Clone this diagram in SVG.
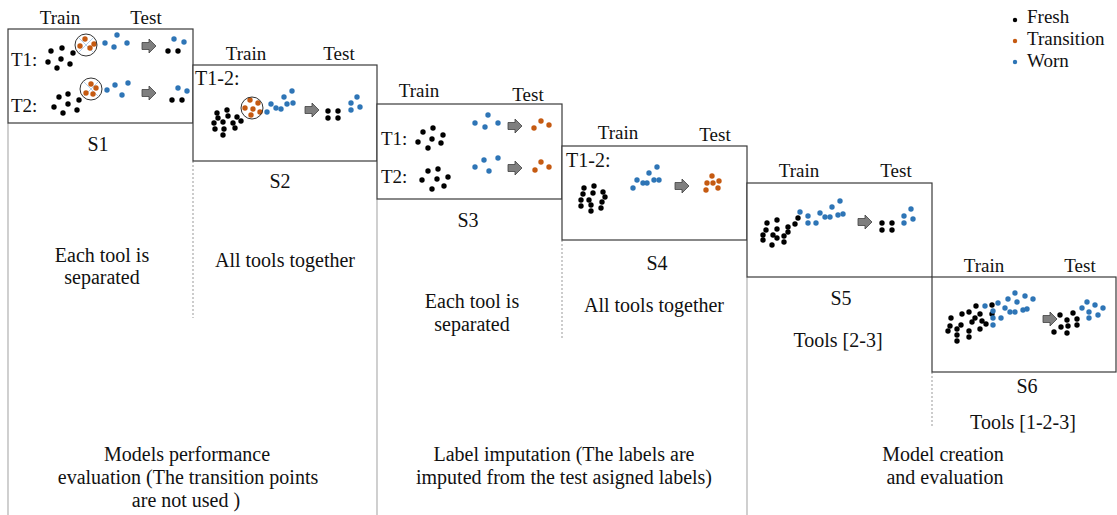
<svg xmlns="http://www.w3.org/2000/svg" width="1117" height="515" viewBox="0 0 1117 515">
<defs>
<style>
.t{font-family:'Liberation Serif',Tinos,'DejaVu Serif','Noto Serif','Times New Roman',serif;font-size:20px;fill:#111}
.s{font-size:19px}
.m{text-anchor:middle}
.box{fill:#fff;stroke:#3a3a3a;stroke-width:1.2}
.k{fill:#000}
.o{fill:#c55a11}
.b{fill:#2e75b6}
.ring{fill:none;stroke:#333;stroke-width:1}
.x{stroke:#9dc3e6;stroke-width:0.8}
.v{stroke:#b0b0b0;stroke-width:1.2;fill:none}
.d{stroke:#999;stroke-width:1;stroke-dasharray:2,2;fill:none}
</style>
<path id="arr" d="M0,-3.5H7V-7L14,0L7,7V3.5H0Z" fill="#7f7f7f" stroke="#404040" stroke-width="0.8"/>
</defs>
<rect width="1117" height="515" fill="#fff"/>

<g id="connectors">
<line class="v" x1="8" y1="123" x2="8" y2="515"/>
<line class="v" x1="377" y1="199" x2="377" y2="515"/>
<line class="v" x1="747" y1="277" x2="747" y2="515"/>
<line class="d" x1="193" y1="161" x2="193" y2="318"/>
<line class="d" x1="562" y1="240" x2="562" y2="340"/>
<line class="d" x1="932" y1="372" x2="932" y2="427"/>
</g>

<g id="legend" font-family="Liberation Serif, serif">
<circle class="k" cx="1015" cy="20" r="2.2"/>
<circle class="o" cx="1015" cy="41" r="2.2"/>
<circle class="b" cx="1015" cy="62" r="2.2"/>
<text class="t s" x="1027" y="23">Fresh</text>
<text class="t s" x="1027" y="45">Transition</text>
<text class="t s" x="1027" y="67">Worn</text>
</g>

<g id="S1">
<rect class="box" x="8" y="29" width="185" height="94"/>
<text class="t s m" x="60" y="24">Train</text>
<text class="t s m" x="146" y="24">Test</text>
<text class="t s" x="11" y="66">T1:</text>
<text class="t s" x="11" y="112">T2:</text>
<g>
<circle class="k" cx="51" cy="51" r="2.7"/><circle class="k" cx="62" cy="48" r="2.7"/><circle class="k" cx="73" cy="53" r="2.7"/><circle class="k" cx="48" cy="62" r="2.7"/><circle class="k" cx="61" cy="59" r="2.7"/><circle class="k" cx="70" cy="64" r="2.7"/><circle class="k" cx="57" cy="68" r="2.7"/>
<line class="x" x1="79" y1="38" x2="93" y2="52"/><line class="x" x1="93" y1="38" x2="79" y2="52"/>
<circle class="o" cx="85" cy="39" r="2.7"/><circle class="o" cx="94" cy="44" r="2.7"/><circle class="o" cx="80" cy="46" r="2.7"/><circle class="o" cx="90" cy="48" r="2.7"/>
<circle class="ring" cx="86" cy="45" r="11"/>
<circle class="b" cx="105" cy="43" r="2.7"/><circle class="b" cx="117" cy="35" r="2.7"/><circle class="b" cx="114" cy="47" r="2.7"/><circle class="b" cx="127" cy="43" r="2.7"/>
<use href="#arr" x="142" y="46"/>
<circle class="b" cx="174" cy="39" r="2.7"/><circle class="b" cx="184" cy="42" r="2.7"/><circle class="k" cx="168" cy="51" r="2.7"/><circle class="k" cx="178" cy="51" r="2.7"/>
</g>
<g>
<circle class="k" cx="59" cy="97" r="2.7"/><circle class="k" cx="68" cy="94" r="2.7"/><circle class="k" cx="79" cy="100" r="2.7"/><circle class="k" cx="54" cy="107" r="2.7"/><circle class="k" cx="68" cy="104" r="2.7"/><circle class="k" cx="77" cy="110" r="2.7"/><circle class="k" cx="63" cy="113" r="2.7"/>
<line class="x" x1="84" y1="82" x2="98" y2="96"/><line class="x" x1="98" y1="82" x2="84" y2="96"/>
<circle class="o" cx="91" cy="84" r="2.7"/><circle class="o" cx="96" cy="88" r="2.7"/><circle class="o" cx="86" cy="93" r="2.7"/><circle class="o" cx="93" cy="94" r="2.7"/>
<circle class="ring" cx="91" cy="89" r="11"/>
<circle class="b" cx="107" cy="90" r="2.7"/><circle class="b" cx="115" cy="85" r="2.7"/><circle class="b" cx="128" cy="83" r="2.7"/><circle class="b" cx="122" cy="95" r="2.7"/>
<use href="#arr" x="142" y="93"/>
<circle class="b" cx="178" cy="88" r="2.7"/><circle class="b" cx="187" cy="91" r="2.7"/><circle class="k" cx="172" cy="100" r="2.7"/><circle class="k" cx="182" cy="100" r="2.7"/>
</g>
<text class="t m" x="98" y="151">S1</text>
<text class="t m" x="102" y="262">Each tool is</text>
<text class="t m" x="102" y="284">separated</text>
</g>

<g id="S2">
<rect class="box" x="193" y="65" width="184" height="96"/>
<text class="t s m" x="246" y="60">Train</text>
<text class="t s m" x="339" y="60">Test</text>
<text class="t" x="195" y="85">T1-2:</text>
<circle class="k" cx="217" cy="113" r="2.7"/><circle class="k" cx="227" cy="110" r="2.7"/><circle class="k" cx="218" cy="118" r="2.7"/><circle class="k" cx="228" cy="116" r="2.7"/><circle class="k" cx="237" cy="117" r="2.7"/><circle class="k" cx="214" cy="123" r="2.7"/><circle class="k" cx="223" cy="122" r="2.7"/><circle class="k" cx="233" cy="123" r="2.7"/><circle class="k" cx="215" cy="129" r="2.7"/><circle class="k" cx="224" cy="129" r="2.7"/><circle class="k" cx="235" cy="128" r="2.7"/><circle class="k" cx="241" cy="121" r="2.7"/><circle class="k" cx="223" cy="135" r="2.7"/>
<circle class="o" cx="250" cy="100" r="2.7"/><circle class="o" cx="258" cy="103" r="2.7"/><circle class="o" cx="245" cy="108" r="2.7"/><circle class="o" cx="253" cy="109" r="2.7"/><circle class="o" cx="260" cy="112" r="2.7"/><circle class="o" cx="251" cy="115" r="2.7"/>
<circle class="ring" cx="252" cy="108" r="11"/>
<circle class="b" cx="267" cy="112" r="2.7"/><circle class="b" cx="271" cy="104" r="2.7"/><circle class="b" cx="276" cy="108" r="2.7"/><circle class="b" cx="281" cy="109" r="2.7"/><circle class="b" cx="284" cy="97" r="2.7"/><circle class="b" cx="292" cy="91" r="2.7"/><circle class="b" cx="287" cy="104" r="2.7"/><circle class="b" cx="293" cy="103" r="2.7"/>
<use href="#arr" x="305" y="110"/>
<circle class="k" cx="328" cy="111" r="2.7"/><circle class="k" cx="338" cy="111" r="2.7"/><circle class="k" cx="328" cy="118" r="2.7"/><circle class="k" cx="338" cy="118" r="2.7"/>
<circle class="b" cx="357" cy="97" r="2.7"/><circle class="b" cx="351" cy="103" r="2.7"/><circle class="b" cx="360" cy="107" r="2.7"/><circle class="b" cx="351" cy="110" r="2.7"/>
<text class="t m" x="280" y="188">S2</text>
<text class="t m" x="285" y="267">All tools together</text>
</g>

<g id="S3">
<rect class="box" x="377" y="104" width="185" height="95"/>
<text class="t s m" x="419" y="97">Train</text>
<text class="t s m" x="528" y="101">Test</text>
<text class="t s" x="381" y="145">T1:</text>
<text class="t s" x="381" y="183">T2:</text>
<circle class="k" cx="423" cy="132" r="2.7"/><circle class="k" cx="433" cy="128" r="2.7"/><circle class="k" cx="443" cy="135" r="2.7"/><circle class="k" cx="418" cy="142" r="2.7"/><circle class="k" cx="432" cy="139" r="2.7"/><circle class="k" cx="441" cy="143" r="2.7"/><circle class="k" cx="428" cy="148" r="2.7"/>
<circle class="b" cx="475" cy="123" r="2.7"/><circle class="b" cx="488" cy="115" r="2.7"/><circle class="b" cx="485" cy="127" r="2.7"/><circle class="b" cx="498" cy="123" r="2.7"/>
<use href="#arr" x="508" y="126"/>
<circle class="o" cx="534" cy="128" r="2.7"/><circle class="o" cx="541" cy="121" r="2.7"/><circle class="o" cx="549" cy="125" r="2.7"/>
<circle class="k" cx="428" cy="171" r="2.7"/><circle class="k" cx="438" cy="169" r="2.7"/><circle class="k" cx="448" cy="177" r="2.7"/><circle class="k" cx="422" cy="180" r="2.7"/><circle class="k" cx="437" cy="179" r="2.7"/><circle class="k" cx="444" cy="186" r="2.7"/><circle class="k" cx="432" cy="189" r="2.7"/>
<circle class="b" cx="475" cy="167" r="2.7"/><circle class="b" cx="484" cy="160" r="2.7"/><circle class="b" cx="498" cy="158" r="2.7"/><circle class="b" cx="489" cy="171" r="2.7"/>
<use href="#arr" x="508" y="168"/>
<circle class="o" cx="535" cy="170" r="2.7"/><circle class="o" cx="541" cy="162" r="2.7"/><circle class="o" cx="549" cy="167" r="2.7"/>
<text class="t m" x="468" y="227">S3</text>
<text class="t m" x="472" y="308">Each tool is</text>
<text class="t m" x="472" y="331">separated</text>
</g>

<g id="S4">
<rect class="box" x="562" y="146" width="185" height="94"/>
<text class="t s m" x="618" y="139">Train</text>
<text class="t s m" x="715" y="141">Test</text>
<text class="t" x="566" y="167">T1-2:</text>
<circle class="k" cx="584" cy="188" r="2.7"/><circle class="k" cx="594" cy="186" r="2.7"/><circle class="k" cx="603" cy="192" r="2.7"/><circle class="k" cx="583" cy="194" r="2.7"/><circle class="k" cx="593" cy="193" r="2.7"/><circle class="k" cx="605" cy="197" r="2.7"/><circle class="k" cx="581" cy="200" r="2.7"/><circle class="k" cx="589" cy="200" r="2.7"/><circle class="k" cx="602" cy="202" r="2.7"/><circle class="k" cx="581" cy="206" r="2.7"/><circle class="k" cx="591" cy="205" r="2.7"/><circle class="k" cx="601" cy="208" r="2.7"/><circle class="k" cx="591" cy="211" r="2.7"/>
<circle class="b" cx="633" cy="188" r="2.7"/><circle class="b" cx="637" cy="180" r="2.7"/><circle class="b" cx="643" cy="183" r="2.7"/><circle class="b" cx="647" cy="183" r="2.7"/><circle class="b" cx="649" cy="173" r="2.7"/><circle class="b" cx="657" cy="167" r="2.7"/><circle class="b" cx="654" cy="180" r="2.7"/><circle class="b" cx="659" cy="180" r="2.7"/>
<use href="#arr" x="675" y="186"/>
<circle class="o" cx="712" cy="176" r="2.7"/><circle class="o" cx="707" cy="183" r="2.7"/><circle class="o" cx="713" cy="183" r="2.7"/><circle class="o" cx="719" cy="181" r="2.7"/><circle class="o" cx="706" cy="190" r="2.7"/><circle class="o" cx="718" cy="188" r="2.7"/>
<text class="t m" x="657" y="270">S4</text>
<text class="t m" x="654" y="312">All tools together</text>
</g>

<g id="S5">
<rect class="box" x="747" y="183" width="185" height="94"/>
<text class="t s m" x="799" y="177">Train</text>
<text class="t s m" x="896" y="177">Test</text>
<circle class="k" cx="767" cy="223" r="2.7"/><circle class="k" cx="777" cy="220" r="2.7"/><circle class="k" cx="766" cy="230" r="2.7"/><circle class="k" cx="777" cy="229" r="2.7"/><circle class="k" cx="788" cy="227" r="2.7"/><circle class="k" cx="795" cy="224" r="2.7"/><circle class="k" cx="798" cy="218" r="2.7"/><circle class="k" cx="763" cy="235" r="2.7"/><circle class="k" cx="773" cy="235" r="2.7"/><circle class="k" cx="788" cy="232" r="2.7"/><circle class="k" cx="763" cy="240" r="2.7"/><circle class="k" cx="777" cy="238" r="2.7"/><circle class="k" cx="784" cy="236" r="2.7"/><circle class="k" cx="772" cy="245" r="2.7"/><circle class="k" cx="784" cy="242" r="2.7"/>
<circle class="b" cx="800" cy="212" r="2.7"/><circle class="b" cx="808" cy="216" r="2.7"/><circle class="b" cx="808" cy="223" r="2.7"/><circle class="b" cx="816" cy="223" r="2.7"/><circle class="b" cx="820" cy="213" r="2.7"/><circle class="b" cx="825" cy="217" r="2.7"/><circle class="b" cx="830" cy="217" r="2.7"/><circle class="b" cx="832" cy="207" r="2.7"/><circle class="b" cx="840" cy="201" r="2.7"/><circle class="b" cx="838" cy="215" r="2.7"/><circle class="b" cx="843" cy="214" r="2.7"/>
<use href="#arr" x="858" y="222"/>
<circle class="k" cx="882" cy="223" r="2.7"/><circle class="k" cx="892" cy="223" r="2.7"/><circle class="k" cx="882" cy="230" r="2.7"/><circle class="k" cx="892" cy="230" r="2.7"/>
<circle class="b" cx="911" cy="209" r="2.7"/><circle class="b" cx="904" cy="216" r="2.7"/><circle class="b" cx="913" cy="219" r="2.7"/><circle class="b" cx="904" cy="223" r="2.7"/>
<text class="t m" x="841" y="305">S5</text>
<text class="t m" x="838" y="347">Tools [2-3]</text>
</g>

<g id="S6">
<rect class="box" x="932" y="277" width="184" height="95"/>
<text class="t s m" x="984" y="272">Train</text>
<text class="t s m" x="1080" y="272">Test</text>
<circle class="k" cx="951" cy="318" r="2.7"/><circle class="k" cx="962" cy="314" r="2.7"/><circle class="k" cx="969" cy="312" r="2.7"/><circle class="k" cx="976" cy="306" r="2.7"/><circle class="k" cx="980" cy="314" r="2.7"/><circle class="k" cx="950" cy="326" r="2.7"/><circle class="k" cx="961" cy="325" r="2.7"/><circle class="k" cx="972" cy="322" r="2.7"/><circle class="k" cx="982" cy="321" r="2.7"/><circle class="k" cx="992" cy="305" r="2.7"/><circle class="k" cx="992" cy="314" r="2.7"/><circle class="k" cx="948" cy="331" r="2.7"/><circle class="k" cx="957" cy="329" r="2.7"/><circle class="k" cx="969" cy="331" r="2.7"/><circle class="k" cx="980" cy="329" r="2.7"/><circle class="k" cx="957" cy="335" r="2.7"/><circle class="k" cx="969" cy="337" r="2.7"/><circle class="k" cx="957" cy="341" r="2.7"/><circle class="k" cx="986" cy="324" r="2.7"/><circle class="k" cx="975" cy="318" r="2.7"/>
<circle class="b" cx="985" cy="306" r="2.7"/><circle class="b" cx="993" cy="311" r="2.7"/><circle class="b" cx="993" cy="318" r="2.7"/><circle class="b" cx="998" cy="303" r="2.7"/><circle class="b" cx="1001" cy="318" r="2.7"/><circle class="b" cx="1005" cy="308" r="2.7"/><circle class="b" cx="1008" cy="299" r="2.7"/><circle class="b" cx="1010" cy="312" r="2.7"/><circle class="b" cx="1015" cy="293" r="2.7"/><circle class="b" cx="1015" cy="312" r="2.7"/><circle class="b" cx="1017" cy="302" r="2.7"/><circle class="b" cx="1023" cy="310" r="2.7"/><circle class="b" cx="1025" cy="296" r="2.7"/><circle class="b" cx="1027" cy="309" r="2.7"/><circle class="b" cx="1033" cy="299" r="2.7"/><circle class="b" cx="993" cy="325" r="2.7"/>
<use href="#arr" x="1043" y="319"/>
<circle class="k" cx="1060" cy="315" r="2.7"/><circle class="k" cx="1067" cy="320" r="2.7"/><circle class="k" cx="1073" cy="313" r="2.7"/><circle class="k" cx="1061" cy="327" r="2.7"/><circle class="k" cx="1068" cy="326" r="2.7"/><circle class="k" cx="1077" cy="325" r="2.7"/><circle class="k" cx="1054" cy="332" r="2.7"/><circle class="k" cx="1067" cy="333" r="2.7"/><circle class="k" cx="1077" cy="319" r="2.7"/>
<circle class="b" cx="1087" cy="302" r="2.7"/><circle class="b" cx="1082" cy="308" r="2.7"/><circle class="b" cx="1095" cy="305" r="2.7"/><circle class="b" cx="1103" cy="308" r="2.7"/><circle class="b" cx="1089" cy="312" r="2.7"/><circle class="b" cx="1098" cy="315" r="2.7"/><circle class="b" cx="1089" cy="318" r="2.7"/>
<text class="t m" x="1027" y="393">S6</text>
<text class="t m" x="1023" y="429">Tools [1-2-3]</text>
</g>

<g id="phase1">
<text class="t m" x="187" y="461">Models performance</text>
<text class="t m" x="188" y="484">evaluation (The transition points</text>
<text class="t m" x="186" y="507">are not used )</text>
</g>
<g id="phase2">
<text class="t m" x="564" y="461">Label imputation (The labels are</text>
<text class="t m" x="564" y="484">imputed from the test asigned labels)</text>
</g>
<g id="phase3">
<text class="t m" x="943" y="461">Model creation</text>
<text class="t m" x="945" y="484">and evaluation</text>
</g>
</svg>
